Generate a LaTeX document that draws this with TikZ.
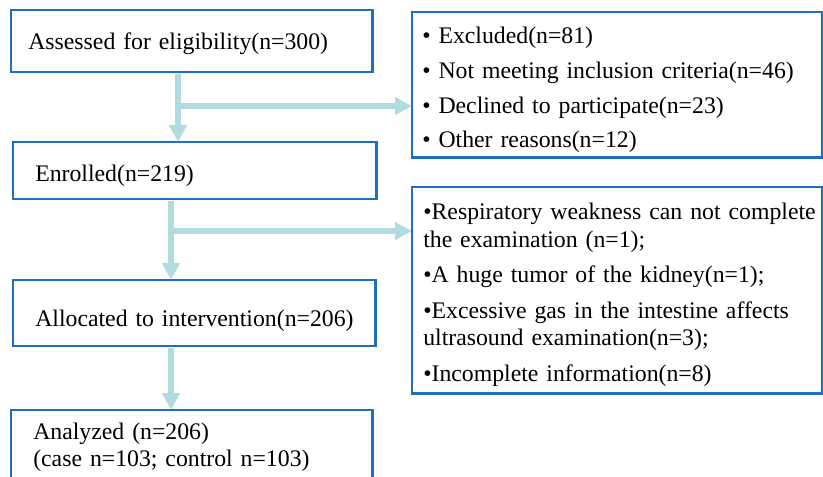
\documentclass[tikz,border=0pt]{standalone}
\usepackage{fontspec}
\setmainfont{Liberation Serif}
\definecolor{boxblue}{RGB}{31,110,193}
\definecolor{arrteal}{RGB}{176,220,224}
\usetikzlibrary{arrows.meta,calc}

\begin{document}
\begin{tikzpicture}[x=0.025cm,y=-0.025cm,
  flowbox/.style={draw=boxblue,line width=2.1pt,anchor=north west,outer sep=0pt,inner sep=0pt},
  flowtxt/.style={anchor=base west,align=left,inner sep=0pt,text width=10.5cm,
    font=\fontsize{16.9}{19.9}\selectfont},
  flowarr/.style={draw=arrteal,line width=3.9pt,shorten <=1.5pt,-{Triangle[length=0.42cm,width=0.42cm]}}
]
  \useasboundingbox (0,0) rectangle (823,477);
  % Main column
  \node[flowbox,minimum width=9.025cm,minimum height=1.55cm] (assessed) at (11,10) {};
  \node[flowtxt] (assessedtxt) at (28,50) {Assessed for eligibility(n=300)};
  \node[flowbox,minimum width=9.075cm,minimum height=1.425cm] (enrolled) at (13,142) {};
  \node[flowtxt] (enrolledtxt) at (35,182) {Enrolled(n=219)};
  \node[flowbox,minimum width=9.05cm,minimum height=1.65cm] (allocated) at (13,280) {};
  \node[flowtxt] (allocatedtxt) at (35,327) {Allocated to intervention(n=206)};
  \node[flowbox,minimum width=9.025cm,minimum height=1.85cm] (analyzed) at (11,410) {};
  \node[flowtxt,font=\fontsize{16.9}{19.1}\selectfont] (analyzedtxt) at (33,440)
    {Analyzed (n=206)\\(case n=103; control n=103)};
  % Exclusion boxes
  \node[flowbox,minimum width=10.25cm,minimum height=3.625cm] (excluded) at (412,12) {};
  \node[flowtxt,font=\fontsize{16.9}{24.6}\selectfont] (excludedtxt) at (422,44)
    {\textbullet\ Excluded(n=81)\\
     \textbullet\ Not meeting inclusion criteria(n=46)\\
     \textbullet\ Declined to participate(n=23)\\
     \textbullet\ Other reasons(n=12)};
  \node[flowbox,minimum width=10.25cm,minimum height=5.15cm] (reasons) at (412,187) {};
  \node[flowtxt] (reasonstxt) at (423,220)
    {\textbullet Respiratory weakness can not complete\\
     the examination (n=1);\\[5pt]
     \textbullet A huge tumor of the kidney(n=1);\\[5pt]
     \textbullet Excessive gas in the intestine affects\\
     ultrasound examination(n=3);\\[5pt]
     \textbullet Incomplete information(n=8)};
  % Arrows
  \coordinate (split1) at (178,106);
  \coordinate (split2) at (171,231);
  \draw[flowarr] (assessed.south -| split1) -- (split1 |- enrolled.north);
  \draw[flowarr] (split1) -- (split1 -| excluded.west);
  \draw[flowarr] (enrolled.south -| split2) -- (split2 |- allocated.north);
  \draw[flowarr] (split2) -- (split2 -| reasons.west);
  \draw[flowarr] (allocated.south -| split2) -- (split2 |- analyzed.north);
\end{tikzpicture}
\end{document}
